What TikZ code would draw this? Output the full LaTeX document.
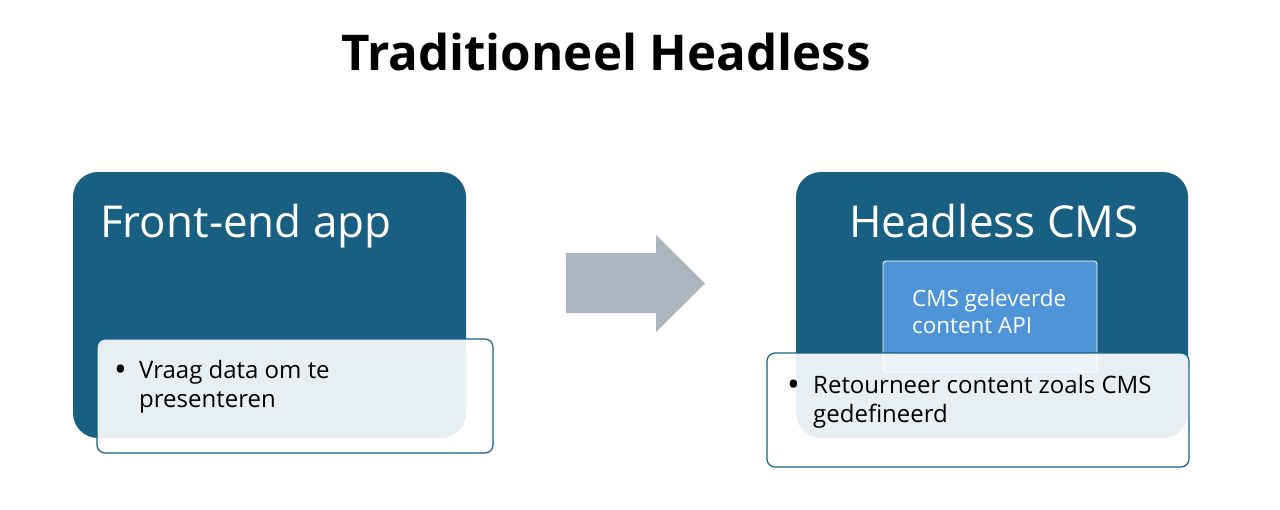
\documentclass[tikz,border=0pt]{standalone}
\usepackage{fontspec}
\setmainfont{Open Sans}
\definecolor{darkbox}{HTML}{185F82}
\definecolor{cmsblue}{HTML}{5094D8}
\definecolor{arrowgray}{HTML}{ABB6C1}
\begin{document}
\begin{tikzpicture}[x=1pt,y=-1pt,
  bigbox/.style={rectangle,fill=darkbox,rounded corners=25pt,inner sep=0pt},
  listbox/.style={rectangle,fill=white,fill opacity=0.9,draw=darkbox,line width=1.2pt,rounded corners=8pt,inner sep=0pt},
  apibox/.style={rectangle,fill=cmsblue,draw=white,line width=0.8pt,rounded corners=3pt,inner sep=0pt},
  heading/.style={text=white,font=\fontsize{44}{52}\selectfont,inner sep=0pt},
  bodytext/.style={text=black,font=\fontsize{24}{29}\selectfont,align=left,inner sep=0pt},
  apitext/.style={text=white,font=\fontsize{22.4}{27}\selectfont,align=left,inner sep=0pt},
  bul/.style={text=black,font=\fontsize{34}{29}\selectfont,inner sep=0pt}]
\useasboundingbox (0,0) rectangle (1280,509);
\fill[white] (0,0) rectangle (1280,509);
% title
\node[font=\bfseries\fontsize{49.3}{56}\selectfont,anchor=base,inner sep=0pt] (title) at (606,70) {Traditioneel Headless};
% left box
\node[bigbox,minimum width=393pt,minimum height=266pt] (front) at (269.5,305) {};
\node[heading,anchor=base west] (fronttitle) at (100,237) {Front-end app};
\node[listbox,minimum width=396pt,minimum height=114pt] (frontlist) at (295,396) {};
\node[bul,anchor=base west] (b1) at (114,381) {•};
\node[bodytext,anchor=base west] (t1) at (139,407) {Vraag data om te\\presenteren};
% arrow
\fill[arrowgray] (566,253) -- (656,253) -- (656,235) -- (705,283.5) -- (656,332) -- (656,313) -- (566,313) -- cycle;
% right box
\node[bigbox,minimum width=392pt,minimum height=266pt] (cms) at (992,305) {};
\node[heading,anchor=base] (cmstitle) at (994,237) {Headless CMS};
\node[apibox,minimum width=214pt,minimum height=111pt] (api) at (990,316.5) {};
\node[apitext,anchor=base west] (apit) at (912,333) {CMS geleverde\\content API};
\node[listbox,minimum width=422pt,minimum height=114pt] (cmslist) at (978,410) {};
\node[bul,anchor=base west] (b2) at (787,396) {•};
\node[bodytext,anchor=base west] (t2) at (813,422) {Retourneer content zoals CMS\\gedefineerd};
\end{tikzpicture}
\end{document}
